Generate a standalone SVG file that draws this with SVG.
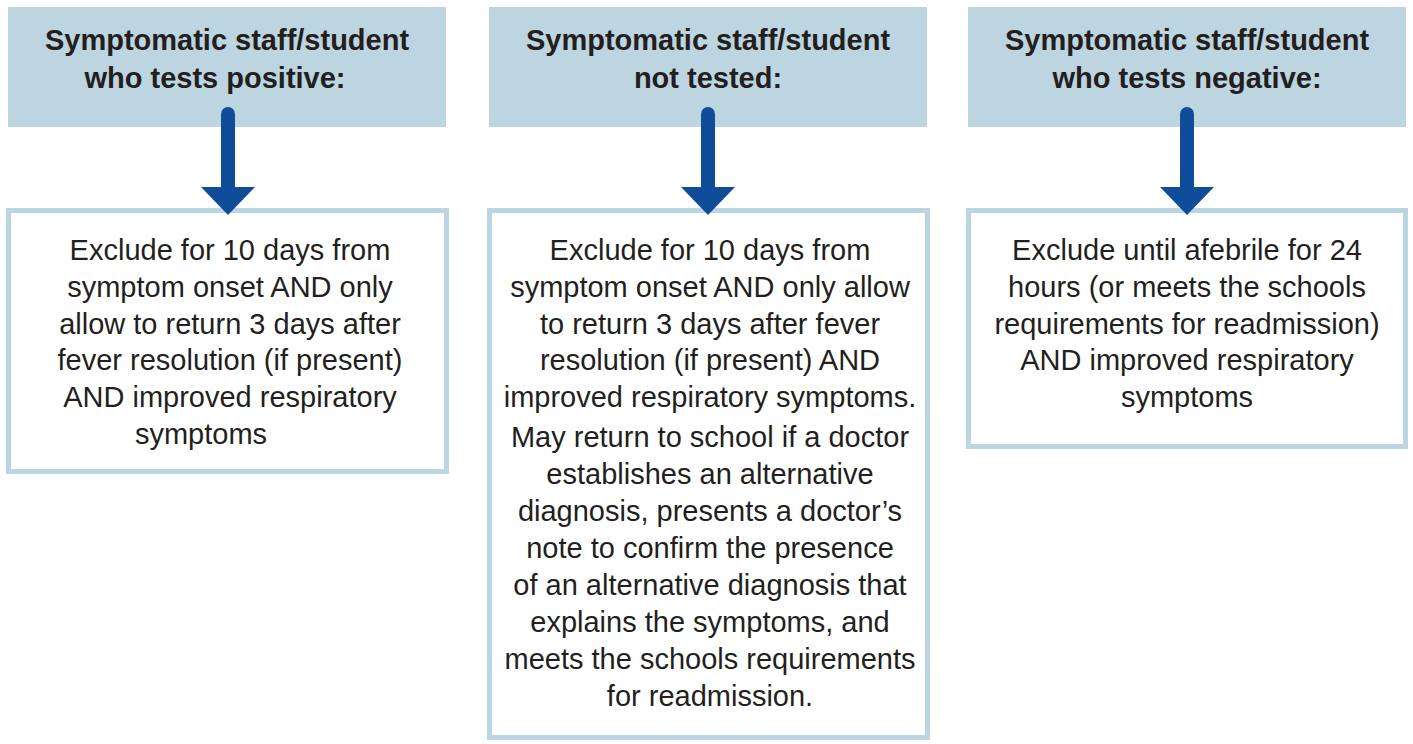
<svg xmlns="http://www.w3.org/2000/svg" width="1413" height="744" viewBox="0 0 1413 744">
<style>
.hdr{fill:#bdd5e1;}
.box{fill:#ffffff;stroke:#bcd5e2;stroke-width:5;}
.ht{font-family:"Liberation Sans",Arial,sans-serif;font-weight:bold;font-size:29px;fill:#231f20;text-anchor:middle;}
.bt{font-family:"Liberation Sans",Arial,sans-serif;font-size:29px;fill:#231f20;text-anchor:middle;}
.shaft{stroke:#0f4c9a;stroke-width:14;stroke-linecap:round;fill:none;}
.head{fill:#0f4c9a;}
</style>
<rect width="1413" height="744" fill="#ffffff"/>
<g id="header-positive">
<rect class="hdr" x="8" y="7" width="438" height="120"/>
<text class="ht" x="227" y="50">Symptomatic staff/student</text>
<text class="ht" x="215" y="88">who tests positive:</text>
</g>
<g id="header-not-tested">
<rect class="hdr" x="489" y="7" width="438" height="120"/>
<text class="ht" x="708" y="50">Symptomatic staff/student</text>
<text class="ht" x="708" y="88">not tested:</text>
</g>
<g id="header-negative">
<rect class="hdr" x="968" y="7" width="438" height="120"/>
<text class="ht" x="1187" y="50">Symptomatic staff/student</text>
<text class="ht" x="1187" y="88">who tests negative:</text>
</g>
<g id="box-positive">
<rect class="box" x="8.5" y="210.5" width="438" height="261"/>
<text class="bt" x="230" y="260">Exclude for 10 days from</text>
<text class="bt" x="230" y="297">symptom onset AND only</text>
<text class="bt" x="230" y="334">allow to return 3 days after</text>
<text class="bt" x="230" y="370">fever resolution (if present)</text>
<text class="bt" x="230" y="407">AND improved respiratory</text>
<text class="bt" x="201" y="444">symptoms</text>
</g>
<g id="box-not-tested">
<rect class="box" x="489.5" y="210.5" width="438" height="527"/>
<text class="bt" x="710" y="260">Exclude for 10 days from</text>
<text class="bt" x="710" y="297">symptom onset AND only allow</text>
<text class="bt" x="710" y="334">to return 3 days after fever</text>
<text class="bt" x="710" y="370">resolution (if present) AND</text>
<text class="bt" x="710" y="407">improved respiratory symptoms.</text>
<text class="bt" x="710" y="447">May return to school if a doctor</text>
<text class="bt" x="710" y="484">establishes an alternative</text>
<text class="bt" x="710" y="521">diagnosis, presents a doctor’s</text>
<text class="bt" x="710" y="558">note to confirm the presence</text>
<text class="bt" x="710" y="595">of an alternative diagnosis that</text>
<text class="bt" x="710" y="632">explains the symptoms, and</text>
<text class="bt" x="710" y="669">meets the schools requirements</text>
<text class="bt" x="710" y="706">for readmission.</text>
</g>
<g id="box-negative">
<rect class="box" x="968.5" y="210.5" width="437" height="236"/>
<text class="bt" x="1187" y="260">Exclude until afebrile for 24</text>
<text class="bt" x="1187" y="297">hours (or meets the schools</text>
<text class="bt" x="1187" y="334">requirements for readmission)</text>
<text class="bt" x="1187" y="370">AND improved respiratory</text>
<text class="bt" x="1187" y="407">symptoms</text>
</g>
<g id="connectors">
<line class="shaft" x1="228" y1="114" x2="228" y2="190"/>
<polygon class="head" points="201,187 255,187 228,215"/>
<line class="shaft" x1="708" y1="114" x2="708" y2="190"/>
<polygon class="head" points="681,187 735,187 708,215"/>
<line class="shaft" x1="1187" y1="114" x2="1187" y2="190"/>
<polygon class="head" points="1160,187 1214,187 1187,215"/>
</g>
</svg>
